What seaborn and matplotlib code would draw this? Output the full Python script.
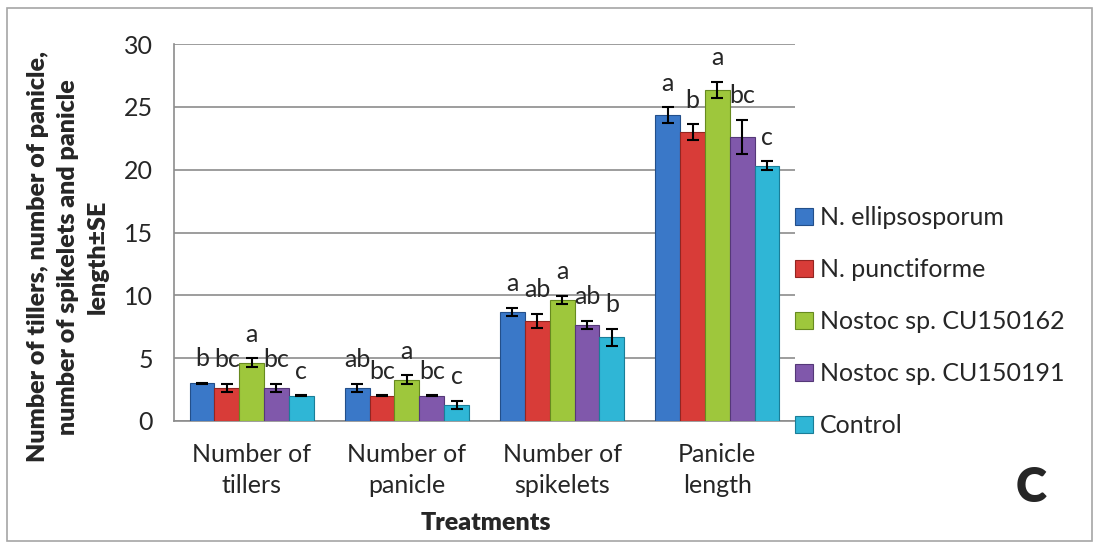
import matplotlib
matplotlib.use("Agg")
import matplotlib.pyplot as plt
import seaborn as sns
import pandas as pd
from matplotlib.patches import Patch, Rectangle

categories = ["Number of\ntillers", "Number of\npanicle", "Number of\nspikelets", "Panicle\nlength"]
treatments = ["N. ellipsosporum", "N. punctiforme", "Nostoc sp. CU150162",
              "Nostoc sp. CU150191", "Control"]
colors = ["#3a78c8", "#d83c38", "#9ec73c", "#8058ab", "#2fb6d6"]
edges = ["#234f8a", "#932521", "#678a1f", "#553878", "#1a7e98"]

# means per treatment (tillers, panicle, spikelets, panicle length)
ellipsosporum = [3.0, 2.65, 8.67, 24.35]
punctiforme = [2.65, 2.0, 7.95, 23.0]
cu150162 = [4.65, 3.3, 9.62, 26.35]
cu150191 = [2.65, 2.0, 7.65, 22.6]
control = [2.0, 1.3, 6.65, 20.3]

# standard errors
se_ellipsosporum = [0.03, 0.33, 0.34, 0.6]
se_punctiforme = [0.33, 0.03, 0.58, 0.6]
se_cu150162 = [0.35, 0.33, 0.34, 0.65]
se_cu150191 = [0.33, 0.03, 0.34, 1.35]
se_control = [0.03, 0.33, 0.68, 0.36]

# significance letters
let_ellipsosporum = ["b", "ab", "a", "a"]
let_punctiforme = ["bc", "bc", "ab", "b"]
let_cu150162 = ["a", "a", "a", "a"]
let_cu150191 = ["bc", "bc", "ab", "bc"]
let_control = ["c", "c", "b", "c"]

means = [ellipsosporum, punctiforme, cu150162, cu150191, control]
ses = [se_ellipsosporum, se_punctiforme, se_cu150162, se_cu150191, se_control]
letters = [let_ellipsosporum, let_punctiforme, let_cu150162, let_cu150191, let_control]

rows = []
for t, vals in zip(treatments, means):
    for c, v in zip(categories, vals):
        rows.append({"Parameter": c, "Treatment": t, "Value": v})
df = pd.DataFrame(rows)

sns.set_style("white")
plt.rcParams['font.family'] = ['Lato', 'DejaVu Sans']

fig = plt.figure(figsize=(10.94, 5.42), dpi=100)
ax = fig.add_axes([174 / 1094, 121 / 542, 621 / 1094, 377 / 542])

sns.barplot(data=df, x="Parameter", y="Value", hue="Treatment", order=categories,
            hue_order=treatments, palette=colors, saturation=1, errorbar=None,
            width=0.8, legend=False, ax=ax, zorder=3)

bar_containers = list(ax.containers)
for i, cont in enumerate(bar_containers):
    for j, bar in enumerate(cont):
        bar.set_edgecolor(edges[i])
        bar.set_linewidth(0.8)
        xc = bar.get_x() + bar.get_width() / 2
        top = bar.get_height()
        ax.errorbar(xc, top, yerr=ses[i][j], color="black", lw=1.5,
                    capsize=4.5, capthick=1.5, zorder=4)
        ax.annotate(letters[i][j], (xc, top + ses[i][j]), xytext=(0, 12),
                    textcoords="offset points", ha="center", va="baseline",
                    fontsize=18, zorder=5)

ax.set_ylim(0, 30)
ax.set_xlim(-0.5, 3.5)
ax.set_yticks(range(0, 31, 5))
ax.yaxis.grid(True, color="#8c8c8c", lw=1.2, zorder=0)
ax.set_axisbelow(True)
for s in ["top", "right"]:
    ax.spines[s].set_visible(False)
for s in ["left", "bottom"]:
    ax.spines[s].set_color("#8c8c8c")
    ax.spines[s].set_linewidth(1.2)

ax.set_xticks([-0.5, 0.5, 1.5, 2.5, 3.5], minor=True)
ax.tick_params(axis="x", which="minor", length=8, color="#8c8c8c", width=1.2, direction="out")
ax.tick_params(axis="x", which="major", length=0, labelsize=18, pad=16)
ax.tick_params(axis="y", length=7, color="#8c8c8c", width=1.2, direction="out",
               labelsize=18, pad=8)
for lab in ax.get_xticklabels():
    lab.set_linespacing(1.4)
ax.set_xlabel("")
ax.set_ylabel("")

fig.text(486 / 1094, 1 - 523 / 542, "Treatments", ha="center", va="center",
         fontsize=18, fontweight="heavy")
fig.text(68 / 1094, 1 - 257 / 542,
         "Number of tillers, number of panicle,\nnumber of spikelets and panicle\nlength\u00b1SE",
         rotation=90, ha="center", va="center", multialignment="center",
         fontsize=18, fontweight="heavy", linespacing=1.45)
fig.text(1031 / 1094, 1 - 488 / 542, "C", ha="center", va="center",
         fontsize=34, fontweight="heavy")

handles = [Patch(facecolor=c, edgecolor=e, lw=0.8) for c, e in zip(colors, edges)]
fig.legend(handles, treatments, loc="upper left", bbox_to_anchor=(795 / 1094, 1 - 206 / 542),
           frameon=False, fontsize=18, handlelength=0.7, handleheight=0.7,
           handletextpad=0.3, labelspacing=1.16, borderpad=0, borderaxespad=0)

fig.patches.append(Rectangle((7 / 1094, 1 / 542), 1085 / 1094, 533 / 542,
                             transform=fig.transFigure, fill=False,
                             edgecolor="#a6a6a6", lw=1.2))

fig.savefig("out.png", dpi=100)
